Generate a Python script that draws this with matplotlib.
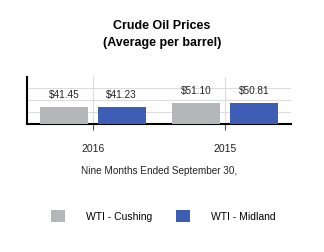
import matplotlib
matplotlib.use('Agg')
import matplotlib.pyplot as plt
import numpy as np

plt.rcParams['font.family'] = ['Liberation Sans', 'DejaVu Sans']

years = ['2016', '2015']
series = ['WTI - Cushing', 'WTI - Midland']
cushing = [41.45, 51.10]
midland = [41.23, 50.81]
colors = ['#b5b6ba', '#3e5db5']

W, H = 324, 253
fig = plt.figure(figsize=(W / 100, H / 100), dpi=100)
ax = fig.add_axes([27 / W, 1 - 125 / H, 264 / W, 47 / H])

x = np.arange(len(years))
bw = 0.364
off = 0.218
b1 = ax.bar(x - off, cushing, bw, color=colors[0], label=series[0], zorder=3)
b2 = ax.bar(x + off, midland, bw, color=colors[1], label=series[1], zorder=3)

for bars in (b1, b2):
    for r in bars:
        ax.annotate(f'${r.get_height():.2f}', (r.get_x() + r.get_width() / 2, r.get_height()),
                    xytext=(0, 6), textcoords='offset points', ha='center', va='bottom',
                    fontsize=7.2, color='#222222')

ax.set_xlim(-0.5, 1.5)
ax.set_ylim(0, 116)
ax.set_xticks(x)
ax.set_xticklabels(years, fontsize=7.5, color='#222222')
ax.set_yticks([30, 60, 90])
ax.set_yticklabels([])
ax.tick_params(axis='y', length=0)
ax.tick_params(axis='x', length=4.5, width=0.8, color='#555555', pad=9)
ax.grid(True, color='#dddddd', linewidth=0.8, zorder=0)
for s in ('top', 'right'):
    ax.spines[s].set_visible(False)
for s in ('left', 'bottom'):
    ax.spines[s].set_linewidth(1.5)
    ax.spines[s].set_color('black')
ax.set_xlabel('Nine Months Ended September 30,', fontsize=7.2, color='#222222', labelpad=9)

fig.text(0.5, 1 - 26 / H, 'Crude Oil Prices', ha='center', va='center', fontsize=9, fontweight='bold')
fig.text(0.5, 1 - 43 / H, '(Average per barrel)', ha='center', va='center', fontsize=9, fontweight='bold')

fig.legend(handles=[b1, b2], loc='center left', bbox_to_anchor=(46 / W, 1 - 217 / H), ncol=2,
           frameon=False, fontsize=7.5, borderpad=0, handlelength=1.35, handleheight=1.44,
           handletextpad=2.0, columnspacing=2.3)

fig.savefig('out.png', dpi=100)
